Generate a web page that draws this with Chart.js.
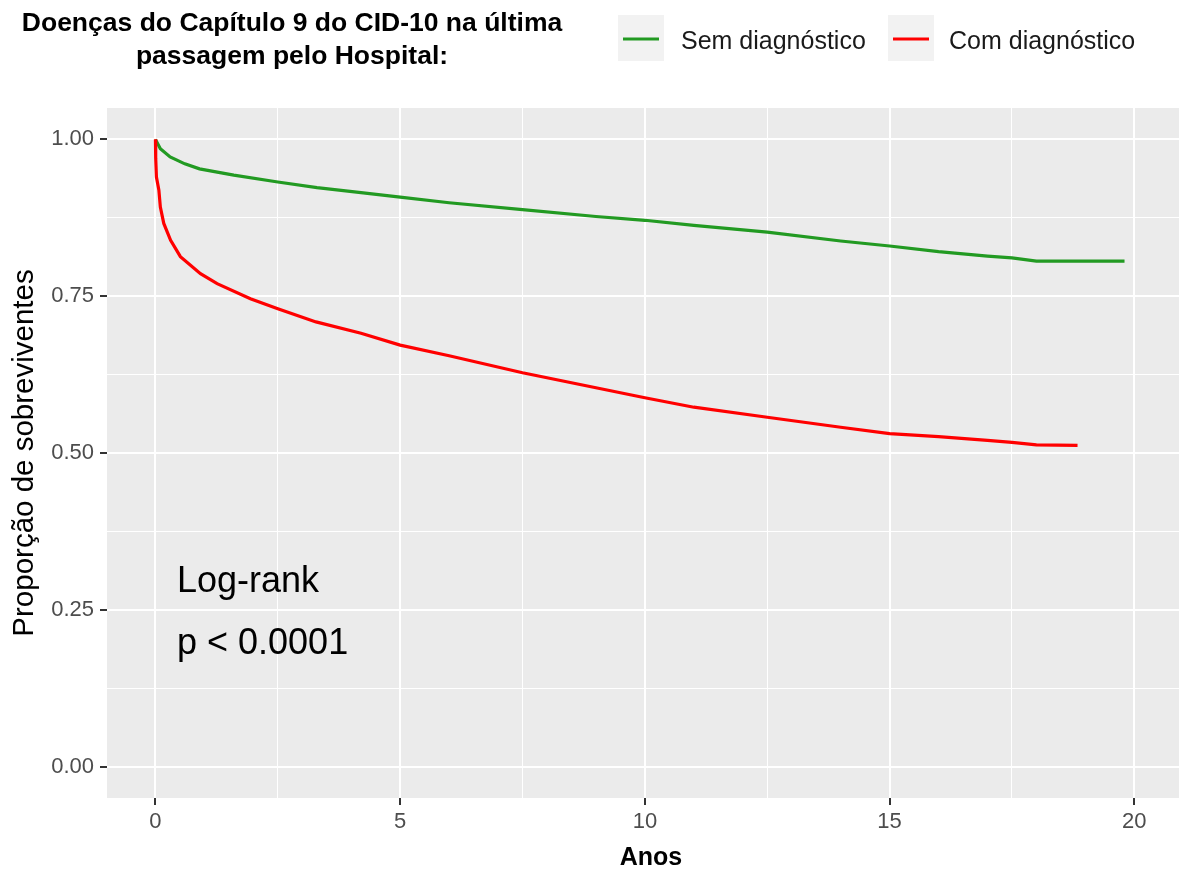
<!DOCTYPE html>
<html>
<head>
<meta charset="utf-8">
<script src="https://cdn.jsdelivr.net/npm/chart.js@4/dist/chart.umd.min.js"></script>
<style>
  html, body { margin: 0; padding: 0; background: #ffffff; }
  #wrap { width: 1179px; height: 876px; overflow: hidden; position: relative; }
  canvas { display: block; }
</style>
</head>
<body>
<div id="wrap"><canvas id="km" width="1200" height="876"></canvas></div>
<script>
// Kaplan-Meier curves
const semTimes = [0, 0.1, 0.3, 0.6, 0.9, 1.6, 2.5, 3.3, 4.2, 5, 6, 7.5, 9, 10, 11, 12.5, 14, 15, 16, 17, 17.5, 18, 19.8];
const semSurv  = [1.0, 0.985, 0.972, 0.961, 0.953, 0.943, 0.932, 0.923, 0.915, 0.908, 0.899, 0.888, 0.877, 0.871, 0.863, 0.852, 0.838, 0.830, 0.821, 0.814, 0.811, 0.806, 0.806];

const comTimes = [0, 0.005, 0.02, 0.07, 0.1, 0.17, 0.31, 0.51, 0.92, 1.26, 1.94, 2.5, 3.28, 4.2, 5, 6, 7.5, 9, 10, 11, 12.5, 14, 15, 16, 17, 17.5, 18, 18.84];
const comSurv  = [1.0, 0.97, 0.94, 0.919, 0.892, 0.866, 0.839, 0.813, 0.786, 0.770, 0.746, 0.730, 0.709, 0.691, 0.672, 0.655, 0.628, 0.604, 0.588, 0.573, 0.557, 0.541, 0.531, 0.526, 0.520, 0.517, 0.513, 0.512];

const seriesNames = ['Sem diagnóstico', 'Com diagnóstico'];
const seriesColors = ['#229a22', '#ff0000'];

const xMajor = [0, 5, 10, 15, 20];
const xMinor = [2.5, 7.5, 12.5, 17.5];
const yMajor = [0, 0.25, 0.5, 0.75, 1.0];
const yMinor = [0.125, 0.375, 0.625, 0.875];

const titleLines = ['Doenças do Capítulo 9 do CID-10 na última', 'passagem pelo Hospital:'];
const annotLines = ['Log-rank', 'p < 0.0001'];

const FONT = "'Liberation Sans', Arial, sans-serif";

function toPoints(xs, ys) {
    return xs.map((x, i) => ({ x: x, y: ys[i] }));
}
function isMajor(list, v) {
    return list.some(m => Math.abs(m - v) < 1e-6);
}

// grey panel behind the plot
const panelBg = {
    id: 'panelBg',
    beforeDraw(chart) {
        const a = chart.chartArea;
        const ctx = chart.ctx;
        ctx.save();
        ctx.fillStyle = '#ebebeb';
        ctx.fillRect(a.left, a.top, a.right - a.left, a.bottom - a.top);
        ctx.restore();
    }
};

// title, legend and log-rank text
const extras = {
    id: 'extras',
    afterDraw(chart) {
        const ctx = chart.ctx;
        ctx.save();
        // title
        ctx.fillStyle = '#000000';
        ctx.font = 'bold 26.5px ' + FONT;
        ctx.textAlign = 'center';
        ctx.textBaseline = 'middle';
        ctx.fillText(titleLines[0], 292, 24);
        ctx.fillText(titleLines[1], 292, 57);

        // legend
        const keyX = [618, 888];
        const textX = [681, 949];
        seriesNames.forEach((name, i) => {
            ctx.fillStyle = '#f2f2f2';
            ctx.fillRect(keyX[i], 15, 46, 46);
            ctx.strokeStyle = seriesColors[i];
            ctx.lineWidth = 3.2;
            ctx.beginPath();
            ctx.moveTo(keyX[i] + 5, 39);
            ctx.lineTo(keyX[i] + 41, 39);
            ctx.stroke();
            ctx.fillStyle = '#1a1a1a';
            ctx.font = '25px ' + FONT;
            ctx.textAlign = 'left';
            ctx.textBaseline = 'middle';
            ctx.fillText(name, textX[i], 42);
        });

        // log-rank annotation
        ctx.fillStyle = '#000000';
        ctx.font = '36px ' + FONT;
        ctx.textAlign = 'left';
        ctx.textBaseline = 'middle';
        ctx.fillText(annotLines[0], 177, 582);
        ctx.fillText(annotLines[1], 177, 644);
        ctx.restore();
    }
};

new Chart(document.getElementById('km'), {
    type: 'line',
    data: {
        datasets: [
            {
                label: seriesNames[0],
                data: toPoints(semTimes, semSurv),
                borderColor: seriesColors[0],
                borderWidth: 3.2,
                order: 1
            },
            {
                label: seriesNames[1],
                data: toPoints(comTimes, comSurv),
                borderColor: seriesColors[1],
                borderWidth: 3.2,
                order: 0
            }
        ]
    },
    options: {
        responsive: false,
        animation: false,
        layout: { padding: { left: 0, right: 5, top: 108, bottom: 0 } },
        elements: { point: { radius: 0 }, line: { tension: 0, fill: false } },
        plugins: { legend: { display: false }, tooltip: { enabled: false } },
        scales: {
            x: {
                type: 'linear',
                min: -0.99,
                max: 21.24,
                afterBuildTicks: s => { s.ticks = xMajor.concat(xMinor).sort((a, b) => a - b).map(v => ({ value: v })); },
                afterFit: s => { s.height = 78; },
                border: { display: false },
                grid: {
                    color: '#ffffff',
                    lineWidth: c => isMajor(xMajor, c.tick.value) ? 2 : 1,
                    drawTicks: true,
                    tickLength: 7,
                    tickWidth: 2,
                    tickColor: c => isMajor(xMajor, c.tick.value) ? '#333333' : 'rgba(0,0,0,0)'
                },
                ticks: {
                    autoSkip: false,
                    maxRotation: 0,
                    padding: 4,
                    color: '#4d4d4d',
                    font: { family: FONT, size: 22 },
                    callback: v => isMajor(xMajor, v) ? String(v) : ''
                },
                title: {
                    display: true,
                    text: 'Anos',
                    color: '#000000',
                    font: { family: FONT, size: 25, weight: 'bold' },
                    padding: { top: 0, bottom: 3 }
                }
            },
            y: {
                type: 'linear',
                min: -0.05,
                max: 1.05,
                afterBuildTicks: s => { s.ticks = yMajor.concat(yMinor).sort((a, b) => a - b).map(v => ({ value: v })); },
                afterFit: s => { s.width = 107; },
                border: { display: false },
                grid: {
                    color: '#ffffff',
                    lineWidth: c => isMajor(yMajor, c.tick.value) ? 2 : 1,
                    drawTicks: true,
                    tickLength: 7,
                    tickWidth: 2,
                    tickColor: c => isMajor(yMajor, c.tick.value) ? '#333333' : 'rgba(0,0,0,0)'
                },
                ticks: {
                    autoSkip: false,
                    padding: 6,
                    color: '#4d4d4d',
                    font: { family: FONT, size: 22 },
                    callback: v => isMajor(yMajor, v) ? v.toFixed(2) : ''
                },
                title: {
                    display: true,
                    text: 'Proporção de sobreviventes',
                    color: '#000000',
                    font: { family: FONT, size: 29.5 },
                    padding: { top: 7, bottom: 0 }
                }
            }
        }
    },
    plugins: [panelBg, extras]
});
</script>
</body>
</html>
